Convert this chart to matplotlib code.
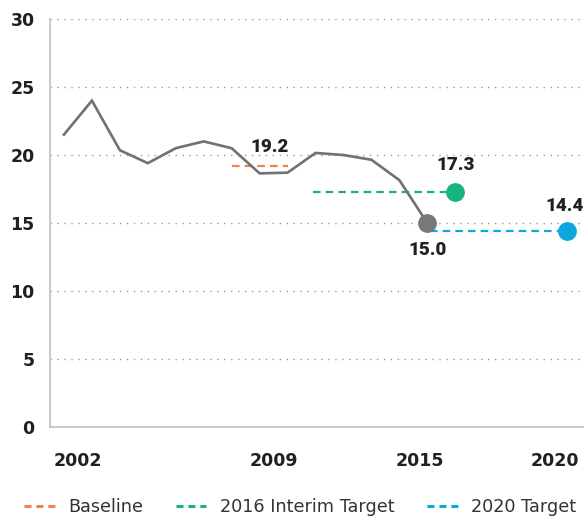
import matplotlib
matplotlib.use("Agg")
import matplotlib.pyplot as plt
from matplotlib.lines import Line2D

years = [2002, 2003, 2004, 2005, 2006, 2007, 2008, 2009, 2010, 2011, 2012, 2013, 2014, 2015]
values = [21.5, 24.0, 20.35, 19.4, 20.5, 21.0, 20.5, 18.65, 18.7, 20.15, 20.0, 19.65, 18.15, 15.0]

baseline_years = [2008, 2010]
baseline_value = 19.2
interim_years = [2010.9, 2016]
interim_value = 17.3
target_years = [2015.1, 2020]
target_value = 14.4

tick_pos = [2002.5, 2009.5, 2014.75, 2019.55]
tick_labels = ['2002', '2009', '2015', '2020']

gray = '#707175'
orange = '#f47f4f'
green = '#19b383'
blue = '#0ea6dd'
dash = (3.4, 2.3)

fig = plt.figure(figsize=(5.85, 5.19), dpi=100)
ax = fig.add_axes([50/585, 1 - 427/519, 533/585, 408/519])

ax.plot(years, values, color=gray, lw=1.9, zorder=3, solid_joinstyle='miter')
ax.plot(baseline_years, [baseline_value]*2, color=orange, lw=1.6, dashes=dash, zorder=2)
ax.plot(interim_years, [interim_value]*2, color=green, lw=1.6, dashes=dash, zorder=2)
ax.plot(target_years, [target_value]*2, color=blue, lw=1.6, dashes=dash, zorder=2)

ax.plot([years[-1]], [values[-1]], 'o', ms=12.5, color='#77787c', zorder=4)
ax.plot([interim_years[-1]], [interim_value], 'o', ms=12.5, color=green, zorder=4)
ax.plot([target_years[-1]], [target_value], 'o', ms=12.5, color=blue, zorder=4)

num_font = dict(family='Roboto', weight='heavy', fontsize=13.5, color='#231f20',
                ha='center', va='center', textcoords='offset points', annotation_clip=False)
ax.annotate(f'{baseline_value:.1f}', (2009, baseline_value), xytext=(7.5, 13.5), **num_font)
ax.annotate(f'{interim_value:.1f}', (interim_years[-1], interim_value), xytext=(0, 19), **num_font)
ax.annotate(f'{values[-1]:.1f}', (years[-1], values[-1]), xytext=(0, -19.5), **num_font)
ax.annotate(f'{target_value:.1f}', (target_years[-1], target_value), xytext=(-2, 18), **num_font)

ax.set_xlim(2001.5, 2020.57)
ax.set_ylim(0, 30)
ax.set_yticks(range(0, 31, 5))
ax.set_xticks(tick_pos)
ax.set_xticklabels(tick_labels)
ax.tick_params(axis='both', length=0, labelsize=12.5, labelcolor='#231f20')
ax.tick_params(axis='y', pad=11)
ax.tick_params(axis='x', pad=18)
for lab in ax.get_xticklabels() + ax.get_yticklabels():
    lab.set_fontweight('bold')
    lab.set_family('DejaVu Sans')

ax.grid(axis='y', linestyle=(0, (1, 4)), color='#9a9a9a', lw=1.0)
ax.set_axisbelow(True)
for s in ['top', 'right']:
    ax.spines[s].set_visible(False)
for s in ['left', 'bottom']:
    ax.spines[s].set_color('#c4c4c4')
    ax.spines[s].set_linewidth(1.3)

handles = [Line2D([], [], color=c, lw=2.2, dashes=(2.3, 1.6)) for c in (orange, green, blue)]
fig.legend(handles, ['Baseline', '2016 Interim Target', '2020 Target'],
           loc='center', bbox_to_anchor=(300/585, 1 - 507/519), ncol=3, frameon=False,
           fontsize=12.7, labelcolor='#333333', handlelength=1.75, handletextpad=0.75,
           columnspacing=1.85, borderaxespad=0, borderpad=0)

fig.savefig('out.png', dpi=100)
